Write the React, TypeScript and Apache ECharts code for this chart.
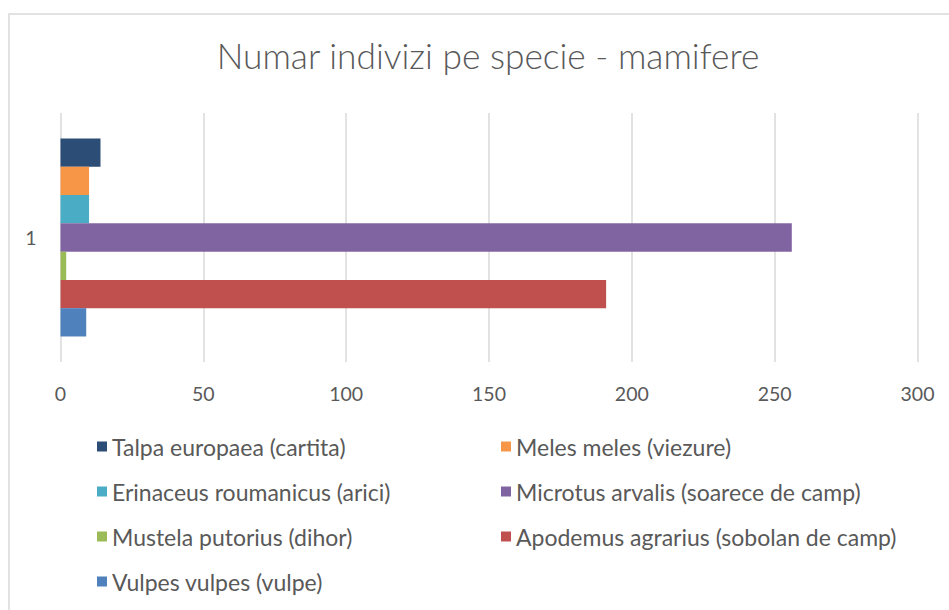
import React, { useEffect, useRef } from "react";
import * as echarts from "echarts";

const categories = ["1"];
const seriesNames = [
  "Talpa europaea (cartita)",
  "Meles meles (viezure)",
  "Erinaceus roumanicus (arici)",
  "Microtus arvalis (soarece de camp)",
  "Mustela putorius (dihor)",
  "Apodemus agrarius (sobolan de camp)",
  "Vulpes vulpes (vulpe)",
];
const seriesValues = [14, 10, 10, 256, 2, 191, 9];
const seriesColors = ["#2c4d75", "#f79646", "#4bacc6", "#8064a2", "#9bbb59", "#c0504d", "#4f81bd"];
const xTicks = { min: 0, max: 300, interval: 50 };
const leftLegend = [seriesNames[0], seriesNames[2], seriesNames[4], seriesNames[6]];
const rightLegend = [seriesNames[1], seriesNames[3], seriesNames[5]];

const FONT = "Lato";
const GRAY = "#595959";

export default function App() {
  const ref = useRef<HTMLDivElement>(null);
  useEffect(() => {
    if (!ref.current) return;
    const chart = echarts.init(ref.current, undefined, { renderer: "svg" });
    const legendCommon = {
      orient: "vertical" as const,
      itemWidth: 10,
      itemHeight: 10,
      itemGap: 22,
      icon: "rect",
      textStyle: { color: GRAY, fontSize: 23, fontFamily: FONT },
      selectedMode: false,
    };
    chart.setOption({
      animation: false,
      backgroundColor: "#ffffff",
      title: {
        text: "Numar indivizi pe specie - mamifere",
        left: 483,
        textAlign: "center",
        top: 33,
        textStyle: { color: GRAY, fontSize: 35.3, fontWeight: 300, fontFamily: FONT },
      },
      graphic: [
        {
          type: "rect",
          shape: { x: 9, y: 14, width: 980, height: 640 },
          style: { fill: "none", stroke: "#d9d9d9", lineWidth: 1.5 },
          silent: true,
        },
      ],
      legend: [
        { ...legendCommon, left: 92, top: 430, data: leftLegend },
        { ...legendCommon, left: 496, top: 430, data: rightLegend },
      ],
      grid: { left: 60.5, right: 31.5, top: 113, bottom: 248, containLabel: false },
      xAxis: {
        type: "value",
        min: xTicks.min,
        max: xTicks.max,
        interval: xTicks.interval,
        axisLine: { show: false },
        axisTick: { show: false },
        axisLabel: { color: GRAY, fontSize: 19.5, fontFamily: FONT, margin: 21 },
        splitLine: { show: true, lineStyle: { color: "#d9d9d9", width: 1.5 } },
      },
      yAxis: {
        type: "category",
        data: categories,
        inverse: true,
        axisLine: { show: false },
        axisTick: { show: false },
        axisLabel: { color: GRAY, fontSize: 19.5, fontFamily: FONT, margin: 24 },
      },
      series: seriesNames.map((name, i) => ({
        type: "bar",
        name,
        data: [seriesValues[i]],
        itemStyle: { color: seriesColors[i] },
        barGap: "0%",
        barCategoryGap: "20.5%",
      })),
    });
    return () => chart.dispose();
  }, []);
  return (
    <div
      ref={ref}
      style={{ position: "fixed", left: 0, top: 0, width: 949, height: 610 }}
    />
  );
}
